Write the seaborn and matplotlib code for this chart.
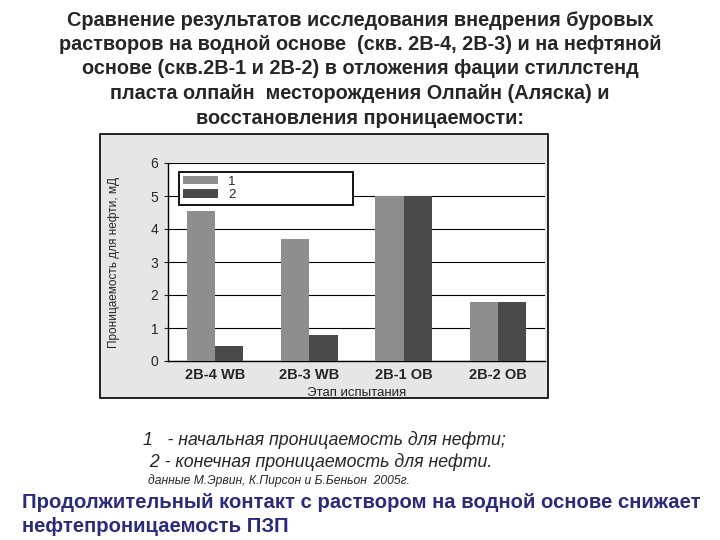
import pandas as pd
import matplotlib.pyplot as plt
import seaborn as sns
from matplotlib.patches import Rectangle, Patch

wells = ['2B-4 WB', '2B-3 WB', '2B-1 OB', '2B-2 OB']
initial_perm = [4.55, 3.7, 5.0, 1.8]
final_perm = [0.45, 0.8, 5.0, 1.8]
series_names = ['1', '2']

df = pd.DataFrame({
    'well': wells * 2,
    'perm': initial_perm + final_perm,
    'series': [series_names[0]] * 4 + [series_names[1]] * 4,
})

sns.set_style('white')
plt.rcParams['font.family'] = ['Liberation Sans', 'DejaVu Sans']

fig = plt.figure(figsize=(7.2, 5.4), dpi=100)

# scanned chart frame
fig.patches.append(Rectangle((100 / 720, 1 - 398 / 540), 448 / 720, 264 / 540,
                             transform=fig.transFigure, facecolor='#e6e6e6',
                             edgecolor='black', linewidth=1.2, zorder=-1))

ax = fig.add_axes([168 / 720, 1 - 361 / 540, 377 / 720, 198 / 540])
ax.set_zorder(2)
ax.set_facecolor('white')
colors = ['#8e8e8e', '#4a4a4a']
sns.barplot(data=df, x='well', y='perm', hue='series', palette=colors,
            width=0.6, gap=0, edgecolor='none', ax=ax, legend=False, zorder=3)

ax.set_ylim(0, 6)
ax.set_yticks(range(7))
ax.yaxis.grid(True, color='black', linewidth=0.8, zorder=0)
ax.set_axisbelow(True)
for s in ['top', 'right']:
    ax.spines[s].set_visible(False)
for s in ['left', 'bottom']:
    ax.spines[s].set_color('black')
    ax.spines[s].set_linewidth(1.0)
ax.tick_params(axis='y', labelsize=10, length=3, left=True, pad=4)
ax.tick_params(axis='x', labelsize=10.5, length=0, pad=5)
for lbl in ax.get_xticklabels():
    lbl.set_fontweight('bold')
ax.set_xlabel('Этап испытания', fontsize=9.5, labelpad=4)
ax.set_ylabel('Проницаемость для нефти, мД', fontsize=8.5, labelpad=22)

handles = [Patch(facecolor=c, edgecolor='none') for c in colors]
leg = ax.legend(handles, series_names, loc='upper left',
                bbox_to_anchor=(0.03, 0.955, 0.46, 0.0), mode='expand',
                borderaxespad=0, fontsize=9.5, frameon=True, fancybox=False,
                framealpha=1, handlelength=2.6, handleheight=0.6,
                labelspacing=0.1, borderpad=0.3, bbox_transform=ax.transAxes)
leg.get_frame().set_edgecolor('black')
leg.get_frame().set_linewidth(1.3)
leg.set_zorder(5)

title_lines = [
    'Сравнение результатов исследования внедрения буровых',
    'растворов на водной основе  (скв. 2В-4, 2В-3) и на нефтяной',
    'основе (скв.2В-1 и 2В-2) в отложения фации стиллстенд',
    'пласта олпайн  месторождения Олпайн (Аляска) и',
    'восстановления проницаемости:',
]
for i, line in enumerate(title_lines):
    fig.text(0.5, 1 - (20 + i * 24.5) / 540, line, ha='center', va='center',
             fontsize=14.3, fontweight='bold')

fig.text(143 / 720, 1 - 440 / 540, '1   - начальная проницаемость для нефти;',
         fontsize=12.8, style='italic', va='center')
fig.text(145 / 720, 1 - 462 / 540, ' 2 - конечная проницаемость для нефти.',
         fontsize=12.8, style='italic', va='center')
fig.text(148 / 720, 1 - 481 / 540, 'данные М.Эрвин, К.Пирсон и Б.Беньон  2005г.',
         fontsize=8.7, style='italic', va='center')

fig.text(22 / 720, 1 - 503 / 540,
         'Продолжительный контакт с раствором на водной основе снижает',
         fontsize=14.6, fontweight='bold', color='#2b2b7d', va='center')
fig.text(22 / 720, 1 - 527 / 540, 'нефтепроницаемость ПЗП',
         fontsize=14.6, fontweight='bold', color='#2b2b7d', va='center')

fig.savefig('out.png', dpi=100)
